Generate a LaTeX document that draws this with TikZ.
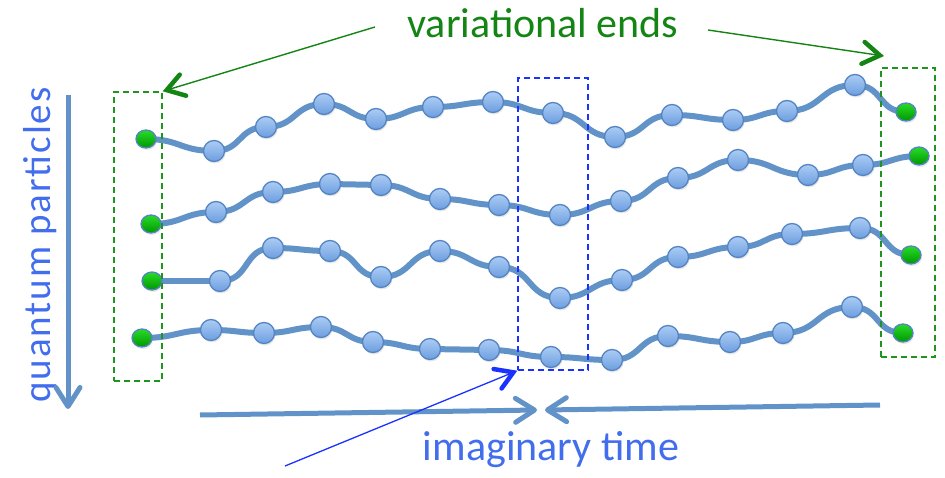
\documentclass[tikz,border=0pt]{standalone}
\usepackage{fontspec}
\setmainfont{Carlito}
\usetikzlibrary{arrows.meta,shapes.geometric,shadows}

\definecolor{chainblue}{RGB}{97,147,201}
\definecolor{beadtop}{RGB}{172,204,244}
\definecolor{beadbot}{RGB}{108,158,224}
\definecolor{beadrim}{RGB}{84,132,194}
\definecolor{endtop}{RGB}{40,220,40}
\definecolor{endbot}{RGB}{0,150,0}
\definecolor{endgreen}{RGB}{20,132,20}
\definecolor{boxgreen}{RGB}{30,150,30}
\definecolor{boxblue}{RGB}{25,50,255}
\definecolor{timeblue}{RGB}{66,110,238}

\begin{document}
\begin{tikzpicture}[x=1pt,y=-1pt,
 bead/.style={circle,draw=beadrim,line width=1.3pt,top color=beadtop,bottom color=beadbot,
   minimum size=21pt,inner sep=0pt,drop shadow={shadow xshift=1pt,shadow yshift=-2pt,opacity=.18}},
 endbead/.style={ellipse,draw=beadrim,line width=1.3pt,top color=endtop,bottom color=endbot,
   minimum width=20pt,minimum height=18pt,inner sep=0pt,drop shadow={shadow xshift=1pt,shadow yshift=-2pt,opacity=.18}},
 polymer/.style={draw=chainblue,line width=6pt,looseness=1.25},
 endbox/.style={draw=boxgreen,line width=1.4pt,dash pattern=on 6pt off 4pt,inner sep=0pt},
 slicebox/.style={draw=boxblue,line width=1.4pt,dash pattern=on 6pt off 4pt,inner sep=0pt},
 axis/.style={draw=chainblue,line width=5pt,-{Straight Barb[length=19pt,width=24pt,line cap=round,line join=round]}},
 endarrow/.style={draw=endgreen,line width=1.4pt,-{Straight Barb[length=17pt,width=22pt,line width=4.5pt,line cap=round]}},
 slicearrow/.style={draw=boxblue,line width=1.3pt,-{Straight Barb[length=17pt,width=21pt,line width=4.5pt,line cap=round]}},
 big/.style={font=\fontsize{42}{48}\selectfont}]
\useasboundingbox (0,0) rectangle (945,478);
% bead positions, one chain per line
\coordinate (c1-0) at (146,139);
\foreach \x/\y [count=\i] in {214/151,266/127,324/104,376/119,433/107,493/102,
  553/113,615/137,672/115,733/120,787/111,855/85,906/112}
  \coordinate (c1-\i) at (\x,\y);
\coordinate (c2-0) at (151,224);
\foreach \x/\y [count=\i] in {216/212,273/192,330/184,381/185,440/199,499/205,
  560/215,621/201,678/178,738/160,808/175,863/165,919/156}
  \coordinate (c2-\i) at (\x,\y);
\coordinate (c3-0) at (152,281);
\foreach \x/\y [count=\i] in {220/281,273/248,330/251,381/277,440/251,499/267,
  560/298,622/280,678/257,738/247,792/234,860/228,911/255}
  \coordinate (c3-\i) at (\x,\y);
\coordinate (c4-0) at (142,338);
\foreach \x/\y [count=\i] in {211/330,264/333,321/327,373/342,430/349,489/350,
  551/357,612/360,668/336,730/342,783/333,852/307,903/333}
  \coordinate (c4-\i) at (\x,\y);
% links between the beads
\foreach \k in {1,...,4}
  \foreach \i in {0,...,12}{
    \pgfmathtruncatemacro\j{\i+1}
    \draw[polymer] (c\k-\i) to[out=0,in=180] (c\k-\j);
  }
% beads on top, green ends at both sides
\foreach \k in {1,...,4}{
  \foreach \i in {1,...,12}
    \node[bead] at (c\k-\i) {};
  \node[endbead] at (c\k-0) {};
  \node[endbead] at (c\k-13) {};
}
% boxes
\node[endbox,minimum width=48pt,minimum height=289pt] (lbox) at (138,236.5) {};
\node[endbox,minimum width=54pt,minimum height=289pt] (rbox) at (908,212.5) {};
\node[slicebox,minimum width=70pt,minimum height=292pt] (mbox) at (553,224) {};
% labels
\node[big,text=endgreen,anchor=base] (ends) at (543,38) {variational ends};
\node[big,text=timeblue,anchor=base] (time) at (551,460) {imaginary time};
\node[font=\fontsize{39}{44}\selectfont\addfontfeature{LetterSpace=5},text=timeblue,
  rotate=90,anchor=base] (qp) at (50,245) {quantum particles};
% arrows
\coordinate (e-left) at (375,27);
\coordinate (e-right) at (708,30);
\coordinate (r-tip) at (884,56);
\draw[endarrow] (e-left) -- (lbox.north east);
\draw[endarrow] (e-right) -- (r-tip);
\coordinate (q-top) at (68,95);
\coordinate (q-bot) at (68,409);
\draw[axis] (q-top) -- (q-bot);
\coordinate (t-left) at (200,415);
\coordinate (t-right) at (880,405);
\coordinate (t-lhead) at (537,410);
\coordinate (t-rhead) at (545,410);
\draw[axis] (t-left) -- (t-lhead);
\draw[axis] (t-right) -- (t-rhead);
\coordinate (m-tail) at (285,466);
\draw[slicearrow] (m-tail) -- (mbox.south west);
\end{tikzpicture}
\end{document}
